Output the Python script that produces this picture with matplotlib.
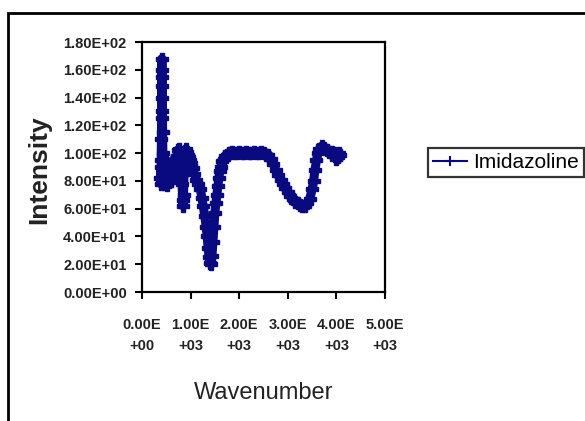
import matplotlib
matplotlib.use('Agg')
import matplotlib.pyplot as plt
from matplotlib.lines import Line2D
from matplotlib.patches import Rectangle

plt.rcParams['font.family'] = ['Liberation Sans', 'DejaVu Sans']

# spectrum (wavenumber, intensity)
wavenumber = [380, 385, 390, 395, 400, 403, 405, 407, 410, 413, 416, 420, 425, 430,
              440, 450, 460, 470, 480, 490, 500, 510, 520, 530, 540, 550, 560, 570,
              580, 600, 620, 640, 660, 680, 700, 720, 740, 760, 780, 800, 815, 825,
              835, 845, 855, 865, 880, 900, 920, 940, 960, 980, 1000, 1040, 1080,
              1120, 1160, 1200, 1230, 1260, 1290, 1320, 1340, 1360, 1380, 1400,
              1420, 1440, 1460, 1480, 1500, 1520, 1540, 1560, 1580, 1600, 1620,
              1650, 1680, 1710, 1740, 1780, 1820, 1860, 1900, 1950, 2000, 2050,
              2100, 2150, 2200, 2250, 2300, 2350, 2400, 2450, 2500, 2550, 2600,
              2650, 2700, 2750, 2800, 2850, 2900, 2950, 3000, 3050, 3100, 3150,
              3200, 3250, 3300, 3350, 3400, 3450, 3500, 3530, 3560, 3590, 3620,
              3650, 3700, 3750, 3800, 3850, 3900, 3950, 3980, 4000, 4030, 4060, 4080]
intensity = [82, 90, 78, 95, 110, 125, 140, 155, 168, 160, 148, 130, 115, 100,
             88, 78, 84, 92, 80, 86, 94, 85, 77, 88, 90, 79, 87, 92,
             84, 80, 88, 95, 90, 84, 92, 98, 102, 103, 100, 96, 88, 78,
             66, 62, 70, 85, 97, 103, 101, 99, 97, 95, 93, 89, 85,
             81, 78, 74, 68, 62, 55, 47, 40, 32, 25, 21,
             20, 26, 36, 47, 57, 64, 70, 76, 82, 87, 90,
             94, 96, 98, 99, 100, 100, 101, 100, 100, 101, 100,
             100, 101, 100, 100, 101, 100, 100, 101, 100, 99, 99,
             96, 92, 88, 84, 81, 78, 75, 72, 69, 67, 65,
             64, 63, 62, 62, 64, 67, 74, 80, 88, 95, 100,
             103, 105, 104, 102, 101, 101, 100, 98, 96, 97, 100, 99]

x_ticks = [0, 1000, 2000, 3000, 4000, 5000]
x_tick_labels = ['0.00E\n+00', '1.00E\n+03', '2.00E\n+03', '3.00E\n+03', '4.00E\n+03', '5.00E\n+03']
y_ticks = [0, 20, 40, 60, 80, 100, 120, 140, 160, 180]
y_tick_labels = ['0.00E+00', '2.00E+01', '4.00E+01', '6.00E+01', '8.00E+01',
                 '1.00E+02', '1.20E+02', '1.40E+02', '1.60E+02', '1.80E+02']

navy = '#0a0a80'

fig = plt.figure(figsize=(5.85, 4.21), dpi=100)
ax = fig.add_axes([142/585, 1 - 292/421, (385-142)/585, (292-42)/421])

ax.plot(wavenumber, intensity, color=navy, lw=6.5, marker='P', ms=8, mec=navy, mfc=navy,
        solid_joinstyle='round', solid_capstyle='round')

ax.set_xlim(0, 5000)
ax.set_ylim(0, 180)
ax.set_xticks(x_ticks)
ax.set_xticklabels(x_tick_labels, fontsize=10.5, fontweight='bold', color='#222222', linespacing=1.6)
ax.set_yticks(y_ticks)
ax.set_yticklabels(y_tick_labels, fontsize=10.5, fontweight='bold', color='#222222')
ax.tick_params(axis='x', direction='out', length=5, width=1.5, pad=14)
ax.tick_params(axis='y', direction='out', length=5, width=1.5, pad=6)
for s in ax.spines.values():
    s.set_linewidth(1.6)
    s.set_color('black')

ax.set_xlabel('Wavenumber', fontsize=17, color='#222222')
ax.xaxis.set_label_coords(0.5, -0.36)
ax.set_ylabel('Intensity', fontsize=19, fontweight='bold', color='#222222')
ax.yaxis.set_label_coords(-0.375, 0.49)

handle = Line2D([], [], color=navy, lw=1.5, marker='+', ms=7, mew=1.5)
leg = fig.legend([handle], ['Imidazoline'], loc='upper left',
                 bbox_to_anchor=(428/585, 1 - 148/421), fontsize=15,
                 frameon=True, fancybox=False, handlelength=1.6, handletextpad=0.3,
                 borderpad=0.25, borderaxespad=0)
leg.get_frame().set_edgecolor('black')
leg.get_frame().set_linewidth(1.6)

# outer chart frame, cut off by the image on the right and bottom
fig.patches.append(Rectangle((8/585, -0.1), 1.2, 1.1 - 13/421, transform=fig.transFigure,
                             fill=False, edgecolor='black', lw=2, clip_on=False))

fig.savefig('out.png', dpi=100)
